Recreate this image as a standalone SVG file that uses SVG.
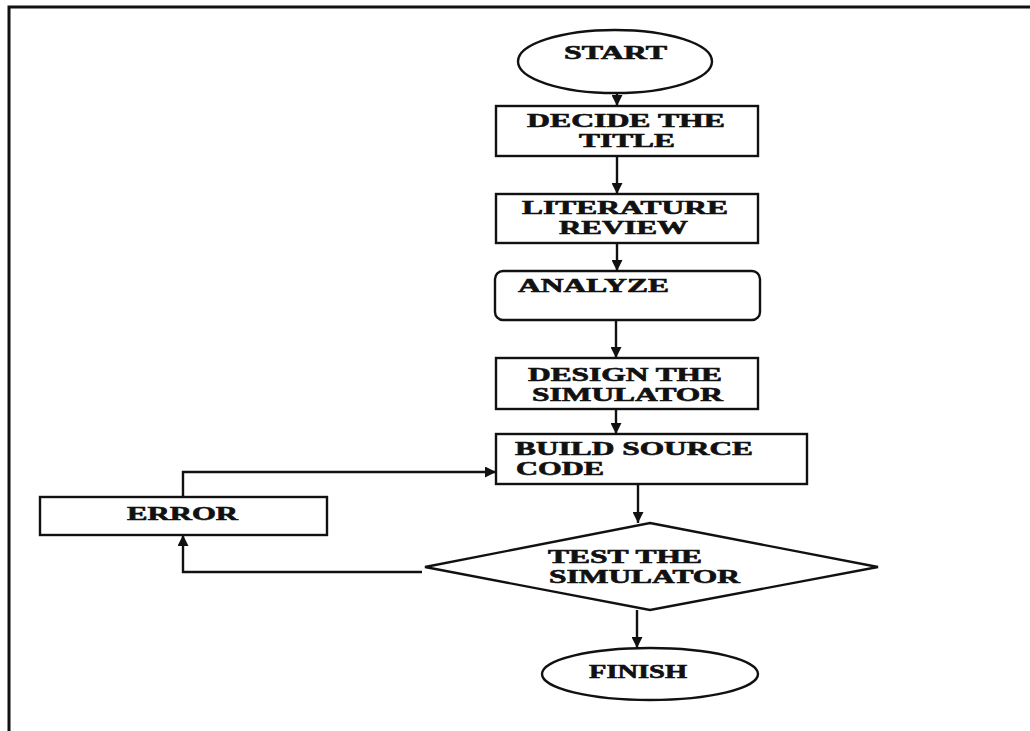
<svg xmlns="http://www.w3.org/2000/svg" width="1030" height="731" viewBox="0 0 1030 731">
<defs>
<marker id="ah" viewBox="0 0 10 10" refX="10" refY="5" markerWidth="11" markerHeight="11" markerUnits="userSpaceOnUse" orient="auto">
<path d="M0,0 L10,5 L0,10 Z" fill="#111"/>
</marker>
<style>
.shape{fill:#fff;stroke:#111;stroke-width:2.4}
.lbl{font-family:"Liberation Serif","Times New Roman",serif;font-weight:bold;font-size:18px;fill:#111;stroke:#111;stroke-width:0.6}
.con{fill:none;stroke:#111;stroke-width:2.4;marker-end:url(#ah)}
.frame{fill:none;stroke:#111;stroke-width:3}
</style>
</defs>
<rect width="1030" height="731" fill="#fff"/>
<path class="frame" d="M9,740 L9,7 L1040,7"/>
<g id="start">
<ellipse class="shape" cx="615" cy="61.5" rx="97" ry="31.5"/>
<text class="lbl" x="564" y="59" textLength="103" lengthAdjust="spacingAndGlyphs">START</text>
</g>
<g id="decide">
<rect class="shape" x="496" y="106" width="262" height="50"/>
<text class="lbl" x="527" y="127" textLength="198" lengthAdjust="spacingAndGlyphs">DECIDE THE</text>
<text class="lbl" x="579" y="147" textLength="96" lengthAdjust="spacingAndGlyphs">TITLE</text>
</g>
<g id="literature">
<rect class="shape" x="496" y="194" width="262" height="49"/>
<text class="lbl" x="522" y="214" textLength="206" lengthAdjust="spacingAndGlyphs">LITERATURE</text>
<text class="lbl" x="559" y="234" textLength="129" lengthAdjust="spacingAndGlyphs">REVIEW</text>
</g>
<g id="analyze">
<rect class="shape" x="495" y="271" width="265" height="49" rx="8" ry="8"/>
<text class="lbl" x="518" y="292" textLength="151" lengthAdjust="spacingAndGlyphs">ANALYZE</text>
</g>
<g id="design">
<rect class="shape" x="496" y="358" width="262" height="51"/>
<text class="lbl" x="528" y="381" textLength="194" lengthAdjust="spacingAndGlyphs">DESIGN THE</text>
<text class="lbl" x="532" y="401" textLength="191" lengthAdjust="spacingAndGlyphs">SIMULATOR</text>
</g>
<g id="build">
<rect class="shape" x="496" y="434" width="311" height="50"/>
<text class="lbl" x="515" y="455" textLength="238" lengthAdjust="spacingAndGlyphs">BUILD SOURCE</text>
<text class="lbl" x="516" y="475" textLength="88" lengthAdjust="spacingAndGlyphs">CODE</text>
</g>
<g id="error">
<rect class="shape" x="40" y="497" width="287" height="38"/>
<text class="lbl" x="127" y="520" textLength="111" lengthAdjust="spacingAndGlyphs">ERROR</text>
</g>
<g id="test">
<polygon class="shape" points="650,523 878,567 650,610 425,567"/>
<text class="lbl" x="548" y="563" textLength="154" lengthAdjust="spacingAndGlyphs">TEST THE</text>
<text class="lbl" x="549" y="583" textLength="191" lengthAdjust="spacingAndGlyphs">SIMULATOR</text>
</g>
<g id="finish">
<ellipse class="shape" cx="650" cy="674" rx="108" ry="26"/>
<text class="lbl" x="589" y="678" textLength="98" lengthAdjust="spacingAndGlyphs">FINISH</text>
</g>
<g id="connectors">
<path class="con" d="M617,93 L617,106"/>
<path class="con" d="M617,156 L617,194"/>
<path class="con" d="M617,243 L617,271"/>
<path class="con" d="M616,320 L616,358"/>
<path class="con" d="M616,409 L616,434"/>
<path class="con" d="M638,484 L638,523"/>
<path class="con" d="M637,610 L637,648"/>
<path class="con" d="M422,572 L183,572 L183,535"/>
<path class="con" d="M183,497 L183,472 L496,472"/>
</g>
</svg>
